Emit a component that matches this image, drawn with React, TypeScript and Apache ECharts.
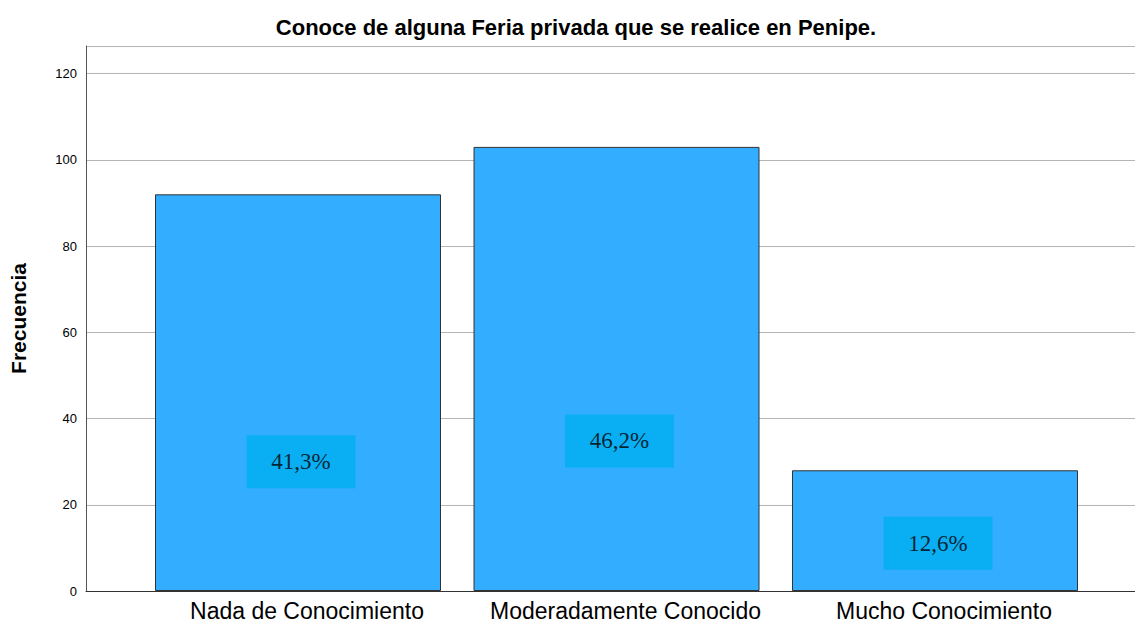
import React, { useEffect, useRef } from "react";
import * as echarts from "echarts";

const categories = ["Nada de Conocimiento", "Moderadamente Conocido", "Mucho Conocimiento"];
const frequencies = [92, 103, 28];
const percentLabels = ["41,3%", "46,2%", "12,6%"];
const labelPositions = [30, 34.8, 11.1];
const yTicks = [0, 20, 40, 60, 80, 100, 120];

const FONT = "'Liberation Sans', Arial, sans-serif";
const YMAX = 126.4;

export default function App() {
  const ref = useRef<HTMLDivElement>(null);
  useEffect(() => {
    if (!ref.current) return;
    const chart = echarts.init(ref.current, undefined, { renderer: "svg" });
    chart.setOption({
      animation: false,
      backgroundColor: "#ffffff",
      title: {
        text: "Conoce de alguna Feria privada que se realice en Penipe.",
        left: 571,
        top: 11,
        textAlign: "center",
        textStyle: { fontFamily: FONT, fontSize: 22, fontWeight: "bold", color: "#000" },
      },
      grid: [
        { left: 86, right: 0, top: 46, bottom: 31 },
        { left: 138.75, right: 40.75, top: 46, bottom: 31 },
      ],
      xAxis: [
        {
          gridIndex: 0,
          type: "value",
          min: 0,
          max: 1,
          axisLine: { show: true, lineStyle: { color: "#333", width: 1 } },
          axisTick: { show: false },
          axisLabel: { show: false },
          splitLine: { show: false },
        },
        {
          gridIndex: 1,
          type: "category",
          data: categories,
          axisLine: { show: false },
          axisTick: { show: false },
          axisLabel: {
            fontFamily: FONT,
            fontSize: 23,
            color: "#000",
            margin: 8,
            interval: 0,
            padding: [0, 0, 0, 18],
          },
        },
      ],
      yAxis: [
        {
          gridIndex: 0,
          type: "value",
          min: 0,
          max: YMAX,
          interval: 20,
          name: "Frecuencia",
          nameLocation: "middle",
          nameGap: 57,
          nameTextStyle: { fontFamily: FONT, fontSize: 21, fontWeight: "bold", color: "#000" },
          axisLine: { show: true, lineStyle: { color: "#555", width: 1 } },
          axisTick: { show: false },
          axisLabel: {
            fontFamily: FONT,
            fontSize: 13,
            color: "#000",
            margin: 9,
            formatter: (v: number) => (yTicks.includes(v) ? String(v) : ""),
          },
          splitLine: { show: true, lineStyle: { color: "#b4b4b4", width: 1 } },
        },
        {
          gridIndex: 1,
          type: "value",
          min: 0,
          max: YMAX,
          show: false,
          splitLine: { show: false },
        },
      ],
      series: [
        {
          type: "bar",
          xAxisIndex: 1,
          yAxisIndex: 1,
          data: frequencies,
          barWidth: 286,
          itemStyle: { color: "#33adff", borderColor: "#333", borderWidth: 1 },
        },
        {
          type: "scatter",
          xAxisIndex: 1,
          yAxisIndex: 1,
          symbolSize: 0,
          data: labelPositions.map((v, i) => ({ value: [categories[i], v], name: percentLabels[i] })),
          label: {
            show: true,
            position: "inside",
            offset: [3, 0],
            formatter: (p: any) => percentLabels[p.dataIndex],
            fontFamily: "'Liberation Serif', 'Times New Roman', serif",
            fontSize: 23,
            color: "#000",
            backgroundColor: "#00aeef",
            width: 109,
            height: 53,
            lineHeight: 53,
            align: "center",
            verticalAlign: "middle",
          },
        },
      ],
    });
    return () => chart.dispose();
  }, []);
  return <div ref={ref} style={{ width: 1135, height: 622, position: "absolute", left: 0, top: 0 }} />;
}
